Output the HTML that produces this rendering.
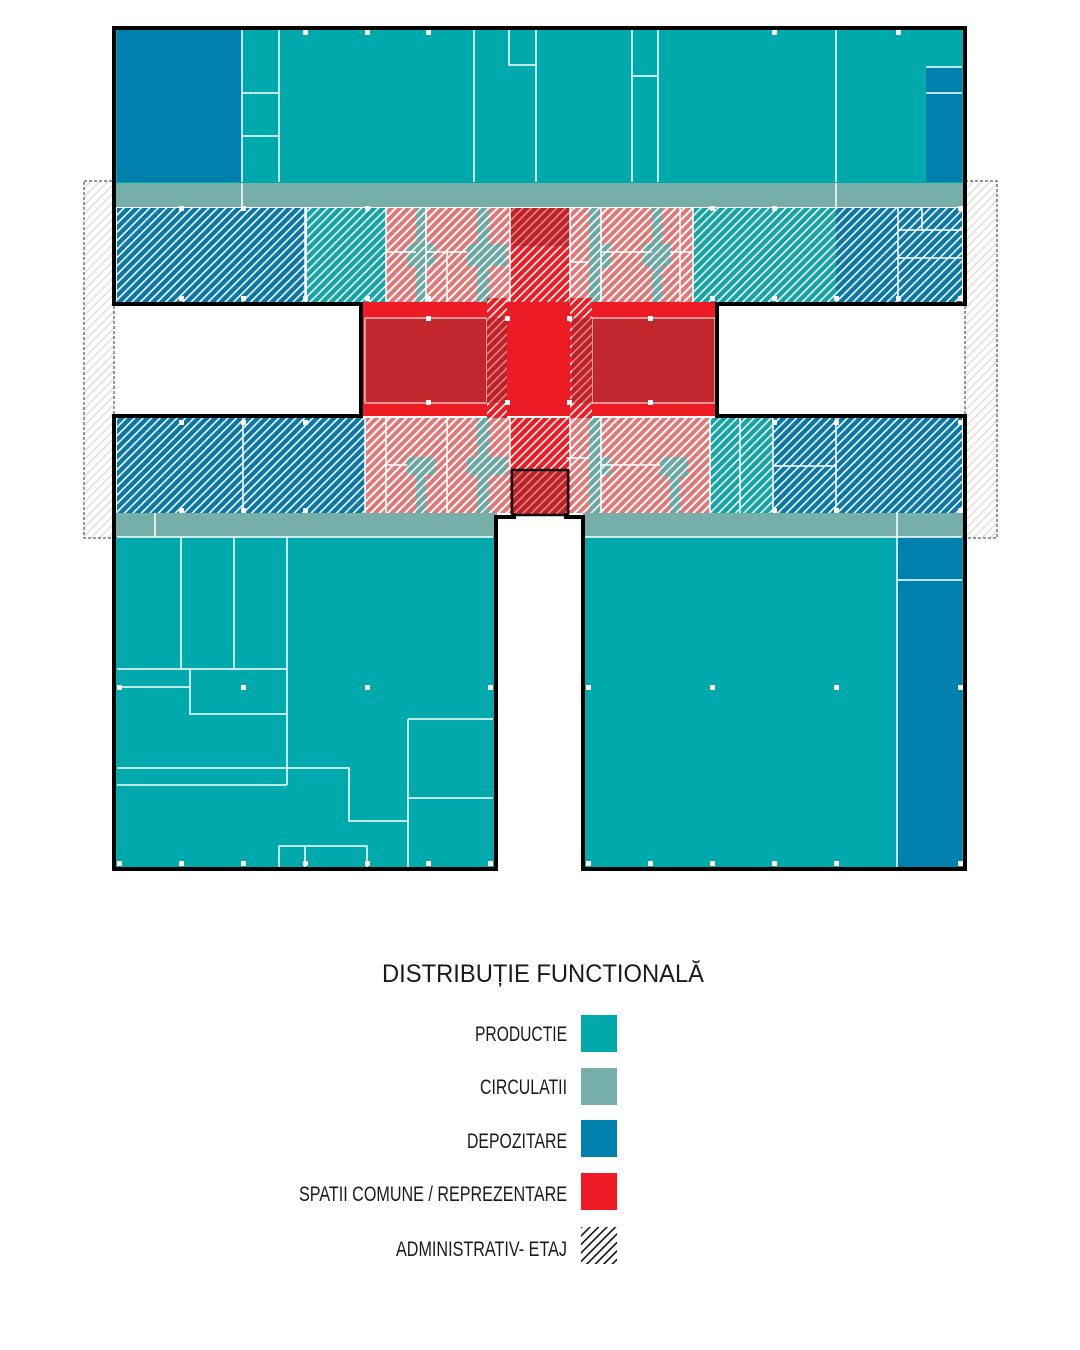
<!DOCTYPE html>
<html><head><meta charset="utf-8"><style>
html,body{margin:0;padding:0;background:#fff;width:1080px;height:1350px;overflow:hidden}
svg{display:block}
text{font-family:"Liberation Sans Narrow","Liberation Sans",sans-serif;fill:#1a1a1a}
</style></head><body>
<svg width="1080" height="1350" viewBox="0 0 1080 1350" xmlns="http://www.w3.org/2000/svg">
<defs>
<pattern id="hB" width="6" height="6" patternUnits="userSpaceOnUse" patternTransform="rotate(45)"><rect width="6" height="6" fill="#0a78a6"/><rect width="1.6" height="6" fill="#fff"/></pattern>
<pattern id="hT" width="6" height="6" patternUnits="userSpaceOnUse" patternTransform="rotate(45)"><rect width="6" height="6" fill="#12a5a5"/><rect width="1.6" height="6" fill="#fff"/></pattern>
<pattern id="hC" width="6" height="6" patternUnits="userSpaceOnUse" patternTransform="rotate(45)"><rect width="6" height="6" fill="#6aa8a3"/><rect width="1.6" height="6" fill="#fff"/></pattern>
<pattern id="hP" width="6" height="6" patternUnits="userSpaceOnUse" patternTransform="rotate(45)"><rect width="6" height="6" fill="#e07878"/><rect width="2" height="6" fill="#fff"/></pattern>
<pattern id="hR" width="6" height="6" patternUnits="userSpaceOnUse" patternTransform="rotate(45)"><rect width="6" height="6" fill="#ed1c24"/><rect width="1.6" height="6" fill="#fff"/></pattern>
<pattern id="hD" width="6" height="6" patternUnits="userSpaceOnUse" patternTransform="rotate(45)"><rect width="6" height="6" fill="#b8232b"/><rect width="1.6" height="6" fill="#f08080"/></pattern>
<pattern id="hS" width="6" height="6" patternUnits="userSpaceOnUse" patternTransform="rotate(45)"><rect width="6" height="6" fill="#fff"/><rect width="1.2" height="6" fill="#ddd8d0"/></pattern>
<pattern id="hK" width="6" height="6" patternUnits="userSpaceOnUse" patternTransform="rotate(45)"><rect width="6" height="6" fill="#fff"/><rect width="1.6" height="6" fill="#111"/></pattern>
</defs>

<rect x="84" y="181" width="30" height="357" fill="url(#hS)" stroke="#333" stroke-dasharray="3,2" stroke-width="1"/>
<rect x="965" y="181" width="32" height="357" fill="url(#hS)" stroke="#333" stroke-dasharray="3,2" stroke-width="1"/>

<rect x="114" y="28" width="851" height="155" fill="#00a9ac"/>
<rect x="117" y="30" width="125" height="152" fill="#0080ac"/>
<rect x="926" y="67" width="36" height="115" fill="#0080ac"/>
<g stroke="#fff" stroke-width="1.5" fill="none">
<path d="M242 30V182M279 30V182M474 30V182M536 30V182M632 30V182M658 30V182M836 30V182M242 93H279M242 136H279M509 30V65H536M632 76H658M926 67H962M926 93H962"/>
</g>
<rect x="114" y="183" width="851" height="24" fill="#76afaa"/>
<path d="M242 183V207M836 183V207" stroke="#fff" stroke-width="1.5"/>

<rect x="117" y="208" width="188" height="94" fill="url(#hB)"/>
<rect x="307" y="208" width="79" height="94" fill="url(#hT)"/>
<rect x="386" y="208" width="124" height="94" fill="url(#hP)"/>
<rect x="510" y="208" width="60" height="38" fill="url(#hD)"/>
<rect x="510" y="246" width="60" height="56" fill="url(#hR)"/>
<rect x="570" y="208" width="123" height="94" fill="url(#hP)"/>
<rect x="693" y="208" width="143" height="94" fill="url(#hT)"/>
<rect x="836" y="208" width="126" height="94" fill="url(#hB)"/>
<g fill="url(#hC)">
<rect x="407" y="244" width="28" height="22"/><rect x="416" y="266" width="10" height="36"/><rect x="416" y="208" width="10" height="36"/>
<rect x="467" y="244" width="40" height="22"/><rect x="477" y="208" width="12" height="94"/>
<rect x="589" y="208" width="12" height="94"/><rect x="601" y="244" width="10" height="24"/>
<rect x="643" y="244" width="28" height="22"/><rect x="652" y="208" width="10" height="94"/>
</g>
<g stroke="#fff" stroke-width="1.5" fill="none">
<path d="M386 252H416M426 252H467M426 208V302M447 252V302M510 208V302M570 208V302M601 208V302M570 262H589M601 252H652M670 252H693M680 208V302M305 208V302M898 208V302M898 230H962M898 258H962M922 208V230M386 208V302M693 208V302"/>
</g>

<rect x="361" y="302" width="356" height="114" fill="#ed1c24"/>
<rect x="365" y="318" width="122" height="85" fill="#c1272d" stroke="#fff" stroke-width="1"/>
<rect x="592" y="318" width="123" height="85" fill="#c1272d" stroke="#fff" stroke-width="1"/>
<rect x="487" y="298" width="20" height="122" fill="url(#hR)"/>
<rect x="570" y="298" width="22" height="122" fill="url(#hR)"/>
<rect x="487" y="318" width="20" height="85" fill="url(#hD)"/>
<rect x="572" y="318" width="20" height="85" fill="url(#hD)"/>

<rect x="117" y="418" width="248" height="95" fill="url(#hB)"/>
<rect x="365" y="418" width="145" height="95" fill="url(#hP)"/>
<rect x="510" y="418" width="60" height="95" fill="url(#hR)"/>
<rect x="512" y="470" width="56" height="45" fill="url(#hD)"/>
<rect x="570" y="418" width="140" height="95" fill="url(#hP)"/>
<rect x="710" y="418" width="63" height="95" fill="url(#hT)"/>
<rect x="773" y="418" width="189" height="95" fill="url(#hB)"/>
<g fill="url(#hC)">
<rect x="407" y="457" width="28" height="18"/><rect x="416" y="475" width="10" height="38"/>
<rect x="467" y="457" width="40" height="18"/><rect x="477" y="418" width="12" height="95"/>
<rect x="589" y="418" width="12" height="95"/><rect x="601" y="457" width="10" height="18"/>
<rect x="660" y="457" width="28" height="20"/><rect x="670" y="477" width="10" height="36"/>
</g>
<g stroke="#fff" stroke-width="1.5" fill="none">
<path d="M243 418V513M365 418V513M386 418V513M447 418V513M510 418V470M570 418V470M601 418V513M566 458H589M601 465H660M710 418V513M740 418V513M773 418V513M836 418V513M773 466H836M386 465H407"/>
</g>
<rect x="512" y="470" width="56" height="45" fill="none" stroke="#111" stroke-width="2.5"/>

<rect x="114" y="513" width="383" height="24" fill="#76afaa"/>
<rect x="583" y="513" width="382" height="24" fill="#76afaa"/>
<path d="M155 513V537M897 513V537" stroke="#fff" stroke-width="1.5"/>

<rect x="114" y="537" width="382" height="332" fill="#00a9ac"/>
<rect x="583" y="537" width="382" height="332" fill="#00a9ac"/>
<rect x="897" y="537" width="65" height="331" fill="#0080ac"/>
<g stroke="#fff" stroke-width="1.5" fill="none">
<path d="M117 537H493M583 537H962M181 537V669M234 537V669M287 537V785M117 669H287M190 669V714H287M117 687H190M117 768H349V821H408M408 719V868M408 719H493M408 798H493M117 785H287M279 868V846H367V868M305 846V868M897 537V868M897 580H962"/>
</g>

<g fill="#fff">
<rect x="179" y="296" width="5" height="5"/><rect x="241" y="296" width="5" height="5"/><rect x="303" y="296" width="5" height="5"/><rect x="365" y="296" width="5" height="5"/><rect x="426" y="296" width="5" height="5"/><rect x="710" y="296" width="5" height="5"/><rect x="772" y="296" width="5" height="5"/><rect x="834" y="296" width="5" height="5"/><rect x="896" y="296" width="5" height="5"/><rect x="958" y="296" width="5" height="5"/>
<rect x="179" y="206" width="5" height="5"/><rect x="241" y="206" width="5" height="5"/><rect x="365" y="206" width="5" height="5"/><rect x="710" y="206" width="5" height="5"/><rect x="772" y="206" width="5" height="5"/><rect x="958" y="206" width="5" height="5"/>
<rect x="179" y="420" width="5" height="5"/><rect x="241" y="420" width="5" height="5"/><rect x="303" y="420" width="5" height="5"/><rect x="772" y="420" width="5" height="5"/><rect x="834" y="420" width="5" height="5"/><rect x="958" y="420" width="5" height="5"/>
<rect x="179" y="508" width="5" height="5"/><rect x="241" y="508" width="5" height="5"/><rect x="303" y="508" width="5" height="5"/><rect x="772" y="508" width="5" height="5"/><rect x="834" y="508" width="5" height="5"/><rect x="958" y="508" width="5" height="5"/>
<rect x="303" y="30" width="5" height="5"/><rect x="365" y="30" width="5" height="5"/><rect x="426" y="30" width="5" height="5"/><rect x="772" y="30" width="5" height="5"/><rect x="896" y="30" width="5" height="5"/>
<rect x="117" y="685" width="5" height="5"/><rect x="241" y="685" width="5" height="5"/><rect x="365" y="685" width="5" height="5"/><rect x="488" y="685" width="5" height="5"/><rect x="586" y="685" width="5" height="5"/><rect x="710" y="685" width="5" height="5"/><rect x="834" y="685" width="5" height="5"/><rect x="958" y="685" width="5" height="5"/>
<rect x="117" y="861" width="5" height="5"/><rect x="179" y="861" width="5" height="5"/><rect x="241" y="861" width="5" height="5"/><rect x="303" y="861" width="5" height="5"/><rect x="365" y="861" width="5" height="5"/><rect x="426" y="861" width="5" height="5"/><rect x="488" y="861" width="5" height="5"/><rect x="586" y="861" width="5" height="5"/><rect x="648" y="861" width="5" height="5"/><rect x="710" y="861" width="5" height="5"/><rect x="772" y="861" width="5" height="5"/><rect x="834" y="861" width="5" height="5"/><rect x="958" y="861" width="5" height="5"/>
<rect x="426" y="316" width="5" height="5"/><rect x="426" y="400" width="5" height="5"/><rect x="648" y="316" width="5" height="5"/><rect x="648" y="400" width="5" height="5"/><rect x="505" y="316" width="5" height="5"/><rect x="567" y="316" width="5" height="5"/><rect x="505" y="400" width="5" height="5"/><rect x="567" y="400" width="5" height="5"/>
</g>

<path d="M114 28H965V304H717V416H965V869H583V517H566V513" fill="none" stroke="#000" stroke-width="4" stroke-linejoin="miter"/>
<path d="M514 513V517H496V869H114V416H361V304H114V26" fill="none" stroke="#000" stroke-width="4" stroke-linejoin="miter"/>

<text x="543" y="982" font-size="25" text-anchor="middle" textLength="322" lengthAdjust="spacingAndGlyphs">DISTRIBUȚIE FUNCTIONALĂ</text>
<g font-size="21" text-anchor="end">
<text x="567" y="1041" textLength="92" lengthAdjust="spacingAndGlyphs">PRODUCTIE</text>
<text x="567" y="1094" textLength="87" lengthAdjust="spacingAndGlyphs">CIRCULATII</text>
<text x="567" y="1148" textLength="100" lengthAdjust="spacingAndGlyphs">DEPOZITARE</text>
<text x="567" y="1201" textLength="268" lengthAdjust="spacingAndGlyphs">SPATII COMUNE / REPREZENTARE</text>
<text x="567" y="1256" textLength="171" lengthAdjust="spacingAndGlyphs">ADMINISTRATIV- ETAJ</text>
</g>
<rect x="581" y="1015" width="36" height="37" fill="#00a9ac"/>
<rect x="581" y="1068" width="36" height="37" fill="#76afaa"/>
<rect x="581" y="1120" width="36" height="37" fill="#0080ac"/>
<rect x="581" y="1173" width="36" height="37" fill="#ed1c24"/>
<rect x="581" y="1227" width="36" height="37" fill="url(#hK)"/>
</svg>
</body></html>
